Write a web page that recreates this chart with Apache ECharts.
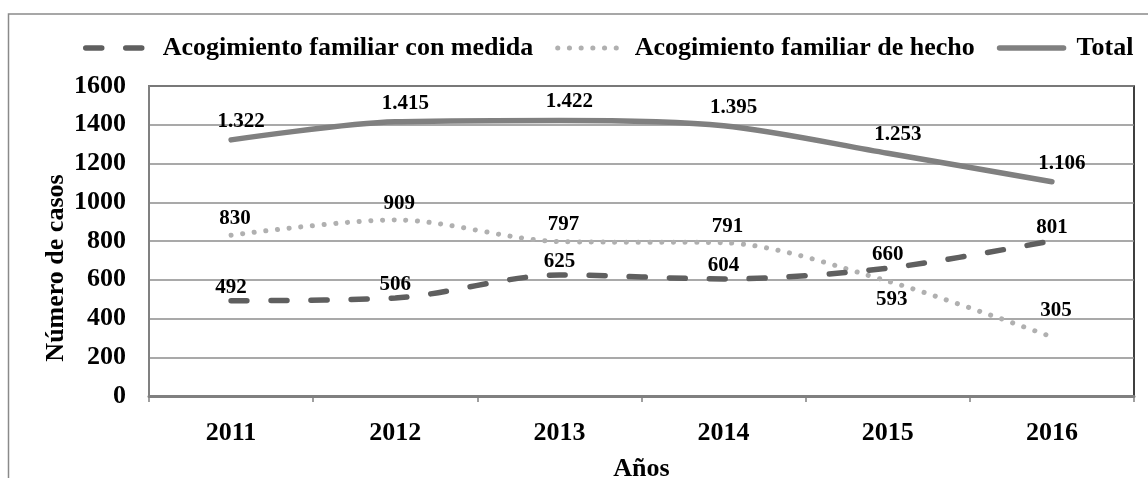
<!DOCTYPE html>
<html>
<head>
<meta charset="utf-8">
<script src="https://cdn.jsdelivr.net/npm/echarts@6/dist/echarts.min.js"></script>
<style>
  html, body { margin: 0; padding: 0; background: #fff; }
  #chart { width: 1148px; height: 478px; }
</style>
</head>
<body>
<div id="chart"></div>
<script>
// Años y número de casos de acogimiento familiar
const years = ['2011', '2012', '2013', '2014', '2015', '2016'];
const conMedida = [492, 506, 625, 604, 660, 801];
const deHecho = [830, 909, 797, 791, 593, 305];
const total = [1322, 1415, 1422, 1395, 1253, 1106];
const yTicks = { min: 0, max: 1600, interval: 200 };

const serif = "'Liberation Serif', 'Times New Roman', serif";

// Estilos de línea de cada serie (también se usan en la leyenda)
const styleMedida = { color: '#5f5f5f', width: 5.5, type: [16, 24], cap: 'round' };
const styleHecho = { color: '#b0b0b0', width: 5, type: [0.1, 11.6], cap: 'round' };
const styleTotal = { color: '#808080', width: 5.5, type: 'solid', cap: 'round' };

// Separador de miles con punto (1.322)
function fmt(v) {
  return String(v).replace(/\B(?=(\d{3})+(?!\d))/g, '.');
}

const labelBase = {
  show: true,
  fontFamily: serif,
  fontWeight: 'bold',
  fontSize: 21,
  color: '#000',
  formatter: p => fmt(p.value)
};

const chart = echarts.init(document.getElementById('chart'), null, { renderer: 'canvas' });

chart.setOption({
  animation: false,
  backgroundColor: '#fff',
  graphic: [{
    type: 'rect',
    silent: true,
    z: -10,
    shape: { x: 8.5, y: 14, width: 1300, height: 700 },
    style: { fill: 'none', stroke: '#8a8a8a', lineWidth: 1.5 }
  }],
  legend: {
    left: 78,
    top: 30,
    itemWidth: 64,
    itemHeight: 14,
    itemGap: 22,
    itemStyle: { opacity: 0 },
    textStyle: {
      fontFamily: serif,
      fontWeight: 'bold',
      fontSize: 26,
      color: '#000',
      padding: [0, 0, 0, 8]
    },
    data: [
      { name: 'Acogimiento familiar con medida', lineStyle: styleMedida },
      { name: 'Acogimiento familiar de hecho', lineStyle: styleHecho },
      { name: 'Total', lineStyle: styleTotal }
    ]
  },
  grid: {
    left: 149,
    right: 14,
    top: 86,
    bottom: 82,
    outerBoundsMode: 'none',
    show: true,
    borderColor: '#000',
    borderWidth: 1.5,
    backgroundColor: 'transparent'
  },
  xAxis: {
    type: 'category',
    data: years,
    boundaryGap: true,
    name: 'Años',
    nameLocation: 'middle',
    nameGap: 60,
    nameTextStyle: { fontFamily: serif, fontWeight: 'bold', fontSize: 26, color: '#000' },
    axisLine: { lineStyle: { color: '#808080', width: 3 } },
    axisTick: { show: true, length: 6, lineStyle: { color: '#808080', width: 1.5 } },
    axisLabel: { fontFamily: serif, fontWeight: 'bold', fontSize: 26, color: '#000', margin: 24 },
    splitLine: { show: false }
  },
  yAxis: {
    type: 'value',
    min: yTicks.min,
    max: yTicks.max,
    interval: yTicks.interval,
    name: 'Número de casos',
    nameLocation: 'middle',
    nameGap: 80,
    nameMoveOverlap: false,
    nameTextStyle: { fontFamily: serif, fontWeight: 'bold', fontSize: 26, color: '#000', padding: [0, 54, 0, 0] },
    axisLine: { show: true, lineStyle: { color: '#808080', width: 2 } },
    axisTick: { show: false },
    axisLabel: { fontFamily: serif, fontWeight: 'bold', fontSize: 26, color: '#000', margin: 23, formatter: v => String(v) },
    splitLine: { lineStyle: { color: '#8c8c8c', width: 1.5 } }
  },
  series: [
    {
      name: 'Acogimiento familiar con medida',
      type: 'line',
      data: conMedida,
      smooth: 0.3,
      symbol: 'circle',
      symbolSize: 0.1,
      z: 3,
      lineStyle: styleMedida,
      itemStyle: { color: styleMedida.color },
      label: Object.assign({}, labelBase, { position: 'top', distance: 3 })
    },
    {
      name: 'Acogimiento familiar de hecho',
      type: 'line',
      smooth: 0.3,
      symbol: 'circle',
      symbolSize: 0.1,
      z: 2,
      data: deHecho.map((v, i) => {
        if (i === 4) return { value: v, label: { position: 'bottom', distance: 8 } };
        if (i === 5) return { value: v, label: { distance: 16 } };
        return { value: v };
      }),
      lineStyle: styleHecho,
      itemStyle: { color: styleHecho.color },
      label: Object.assign({}, labelBase, { position: 'top', distance: 6, offset: [4, 0] })
    },
    {
      name: 'Total',
      type: 'line',
      data: total,
      smooth: 0.3,
      symbol: 'circle',
      symbolSize: 0.1,
      z: 4,
      lineStyle: styleTotal,
      itemStyle: { color: styleTotal.color },
      label: Object.assign({}, labelBase, { position: 'top', distance: 8, offset: [10, 0] })
    }
  ]
});
</script>
</body>
</html>
